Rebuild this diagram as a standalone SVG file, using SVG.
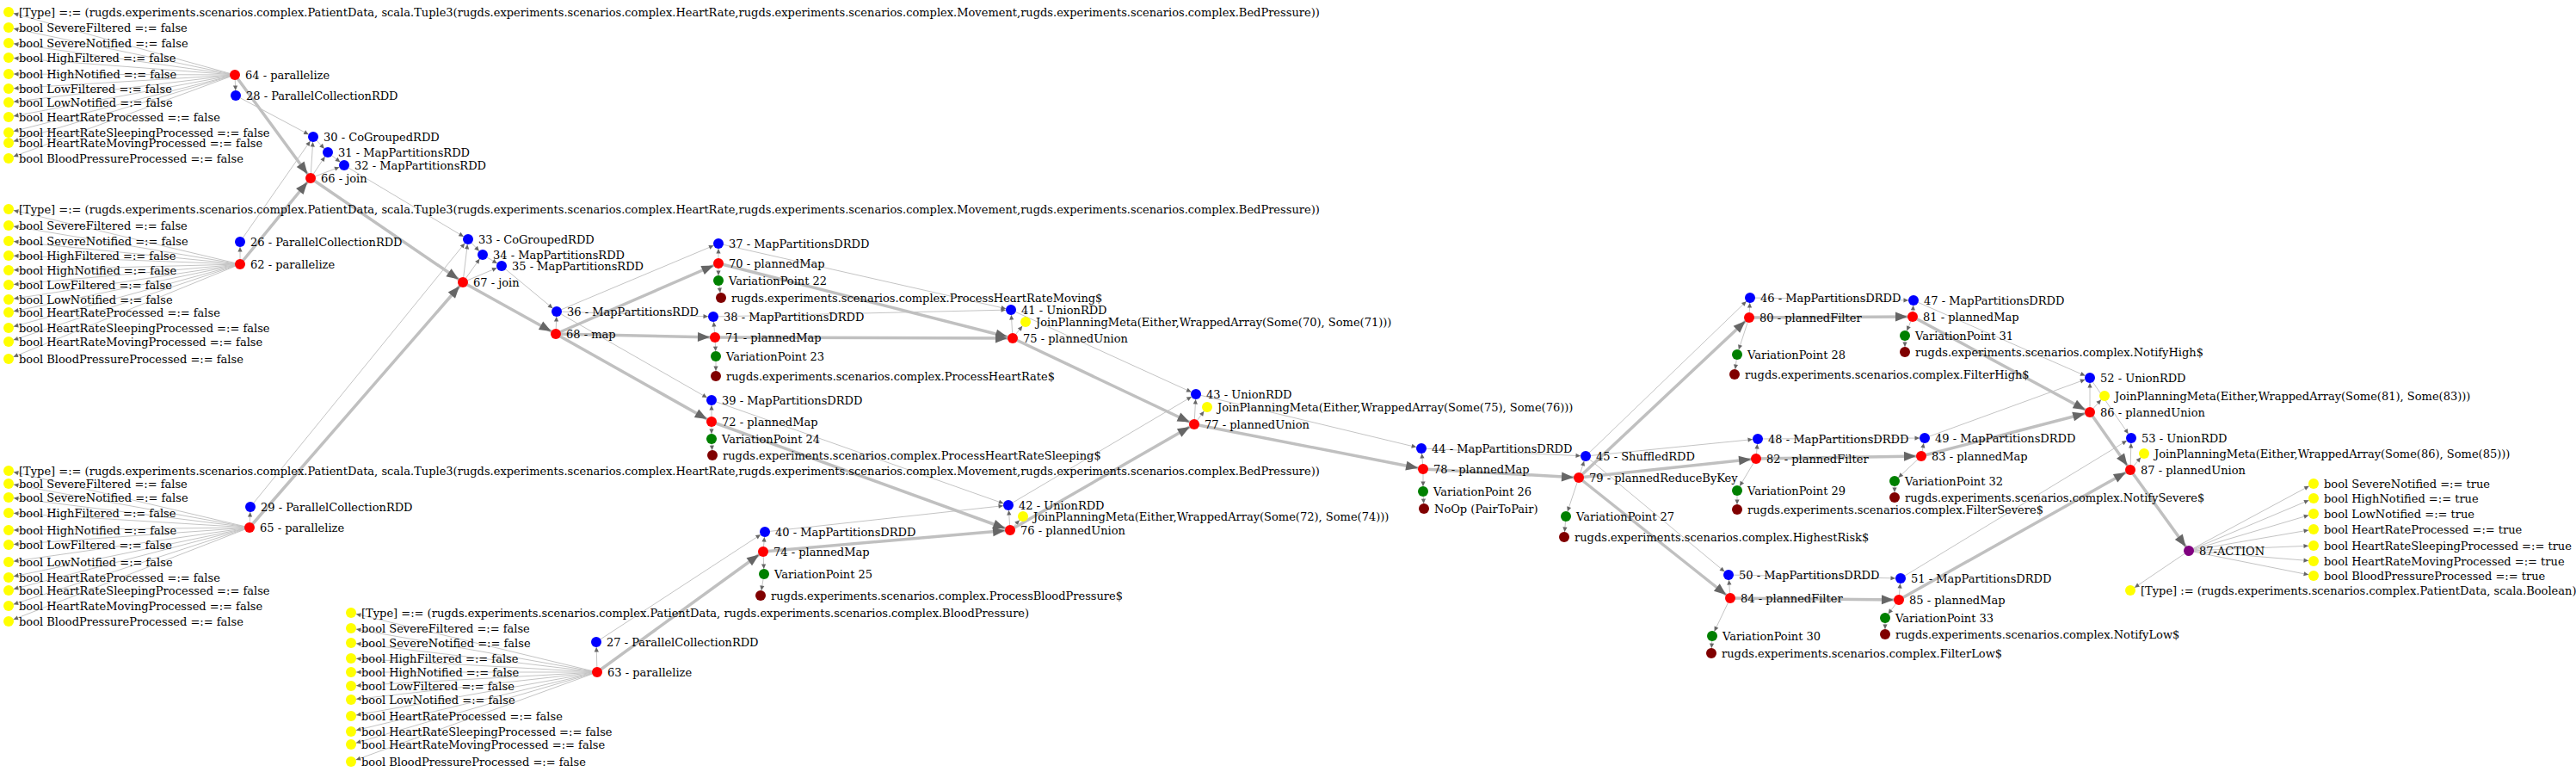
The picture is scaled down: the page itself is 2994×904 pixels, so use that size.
<svg xmlns="http://www.w3.org/2000/svg" width="2994" height="904" viewBox="0 0 2994 904">
<style>
.l{font-family:"DejaVu Serif","Liberation Serif",serif;font-size:13px;fill:#000}
.t{stroke:#c4c4c4;stroke-width:1;fill:none;marker-end:url(#as)}
.k{stroke:#c0c0c0;stroke-width:3.5;fill:none;marker-end:url(#al)}
.b{fill:#0000ff}.r{fill:#ff0000}.y{fill:#ffff00}.g{fill:#008000}.d{fill:#800000}.p{fill:#800080}
</style>
<defs>
<marker id="as" markerUnits="userSpaceOnUse" viewBox="-20 -10 30 20" markerWidth="30" markerHeight="20" refX="0" refY="0" orient="auto" overflow="visible"><path d="M-6,0 L-11.5,-2.6 L-11.5,2.6 Z" fill="#666"/></marker>
<marker id="al" markerUnits="userSpaceOnUse" viewBox="-30 -10 40 20" markerWidth="40" markerHeight="20" refX="0" refY="0" orient="auto" overflow="visible"><path d="M-6,0 L-20,-5.5 L-20,5.5 Z" fill="#666"/></marker>
</defs>
<rect width="2994" height="904" fill="#fff"/>
<g id="connectors">
<line class="t" x1="273" y1="87" x2="10" y2="14"/><line class="t" x1="273" y1="87" x2="10" y2="32"/><line class="t" x1="273" y1="87" x2="10" y2="50"/><line class="t" x1="273" y1="87" x2="10" y2="67"/><line class="t" x1="273" y1="87" x2="10" y2="86"/><line class="t" x1="273" y1="87" x2="10" y2="103"/><line class="t" x1="273" y1="87" x2="10" y2="119"/><line class="t" x1="273" y1="87" x2="10" y2="136"/><line class="t" x1="273" y1="87" x2="10" y2="154"/><line class="t" x1="273" y1="87" x2="10" y2="166"/><line class="t" x1="273" y1="87" x2="10" y2="184"/>
<line class="t" x1="279" y1="307" x2="10" y2="243"/><line class="t" x1="279" y1="307" x2="10" y2="262"/><line class="t" x1="279" y1="307" x2="10" y2="280"/><line class="t" x1="279" y1="307" x2="10" y2="297"/><line class="t" x1="279" y1="307" x2="10" y2="314"/><line class="t" x1="279" y1="307" x2="10" y2="331"/><line class="t" x1="279" y1="307" x2="10" y2="348"/><line class="t" x1="279" y1="307" x2="10" y2="363"/><line class="t" x1="279" y1="307" x2="10" y2="381"/><line class="t" x1="279" y1="307" x2="10" y2="397"/><line class="t" x1="279" y1="307" x2="10" y2="417"/>
<line class="t" x1="290" y1="613" x2="10" y2="547"/><line class="t" x1="290" y1="613" x2="10" y2="562"/><line class="t" x1="290" y1="613" x2="10" y2="578"/><line class="t" x1="290" y1="613" x2="10" y2="596"/><line class="t" x1="290" y1="613" x2="10" y2="616"/><line class="t" x1="290" y1="613" x2="10" y2="633"/><line class="t" x1="290" y1="613" x2="10" y2="653"/><line class="t" x1="290" y1="613" x2="10" y2="671"/><line class="t" x1="290" y1="613" x2="10" y2="686"/><line class="t" x1="290" y1="613" x2="10" y2="704"/><line class="t" x1="290" y1="613" x2="10" y2="722"/>
<line class="t" x1="694" y1="781" x2="408" y2="712"/><line class="t" x1="694" y1="781" x2="408" y2="730"/><line class="t" x1="694" y1="781" x2="408" y2="747"/><line class="t" x1="694" y1="781" x2="408" y2="765"/><line class="t" x1="694" y1="781" x2="408" y2="781"/><line class="t" x1="694" y1="781" x2="408" y2="797"/><line class="t" x1="694" y1="781" x2="408" y2="813"/><line class="t" x1="694" y1="781" x2="408" y2="832"/><line class="t" x1="694" y1="781" x2="408" y2="850"/><line class="t" x1="694" y1="781" x2="408" y2="865"/><line class="t" x1="694" y1="781" x2="408" y2="885"/>
<line class="t" x1="273" y1="87" x2="274" y2="111"/>
<line class="k" x1="273" y1="87" x2="361" y2="207"/>
<line class="t" x1="274" y1="111" x2="364" y2="159"/>
<line class="t" x1="361" y1="207" x2="364" y2="159"/>
<line class="t" x1="361" y1="207" x2="381" y2="177"/>
<line class="t" x1="361" y1="207" x2="400" y2="192"/>
<line class="t" x1="364" y1="159" x2="381" y2="177"/>
<line class="t" x1="381" y1="177" x2="400" y2="192"/>
<line class="t" x1="279" y1="281" x2="364" y2="159"/>
<line class="t" x1="279" y1="307" x2="279" y2="281"/>
<line class="k" x1="279" y1="307" x2="361" y2="207"/>
<line class="k" x1="361" y1="207" x2="538" y2="328"/>
<line class="t" x1="400" y1="192" x2="544" y2="278"/>
<line class="t" x1="291" y1="589" x2="544" y2="278"/>
<line class="t" x1="538" y1="328" x2="544" y2="278"/>
<line class="t" x1="538" y1="328" x2="561" y2="296"/>
<line class="t" x1="538" y1="328" x2="583" y2="309"/>
<line class="t" x1="544" y1="278" x2="561" y2="296"/>
<line class="t" x1="561" y1="296" x2="583" y2="309"/>
<line class="t" x1="290" y1="613" x2="291" y2="589"/>
<line class="k" x1="290" y1="613" x2="538" y2="328"/>
<line class="t" x1="694" y1="781" x2="693" y2="746"/>
<line class="k" x1="694" y1="781" x2="887" y2="641"/>
<line class="t" x1="693" y1="746" x2="889" y2="618"/>
<line class="t" x1="583" y1="309" x2="647" y2="362"/>
<line class="k" x1="538" y1="328" x2="646" y2="388"/>
<line class="t" x1="646" y1="388" x2="647" y2="362"/>
<line class="t" x1="647" y1="362" x2="835" y2="283"/>
<line class="t" x1="647" y1="362" x2="829" y2="368"/>
<line class="t" x1="647" y1="362" x2="827" y2="465"/>
<line class="k" x1="646" y1="388" x2="835" y2="306"/>
<line class="k" x1="646" y1="388" x2="831" y2="392"/>
<line class="k" x1="646" y1="388" x2="827" y2="490"/>
<line class="t" x1="835" y1="306" x2="835" y2="283"/>
<line class="t" x1="835" y1="306" x2="835" y2="326"/>
<line class="t" x1="835" y1="326" x2="838" y2="346"/>
<line class="t" x1="831" y1="392" x2="829" y2="368"/>
<line class="t" x1="831" y1="392" x2="832" y2="414"/>
<line class="t" x1="832" y1="414" x2="832" y2="437"/>
<line class="t" x1="827" y1="490" x2="827" y2="465"/>
<line class="t" x1="827" y1="490" x2="827" y2="510"/>
<line class="t" x1="827" y1="510" x2="828" y2="529"/>
<line class="t" x1="887" y1="641" x2="889" y2="618"/>
<line class="t" x1="887" y1="641" x2="888" y2="667"/>
<line class="t" x1="888" y1="667" x2="884" y2="692"/>
<line class="t" x1="835" y1="283" x2="1175" y2="360"/>
<line class="t" x1="829" y1="368" x2="1175" y2="360"/>
<line class="k" x1="835" y1="306" x2="1177" y2="393"/>
<line class="k" x1="831" y1="392" x2="1177" y2="393"/>
<line class="t" x1="1177" y1="393" x2="1175" y2="360"/>
<line class="t" x1="1177" y1="393" x2="1192" y2="374"/>
<line class="t" x1="827" y1="465" x2="1172" y2="587"/>
<line class="t" x1="889" y1="618" x2="1172" y2="587"/>
<line class="k" x1="827" y1="490" x2="1174" y2="616"/>
<line class="k" x1="887" y1="641" x2="1174" y2="616"/>
<line class="t" x1="1174" y1="616" x2="1172" y2="587"/>
<line class="t" x1="1174" y1="616" x2="1189" y2="600"/>
<line class="t" x1="1175" y1="360" x2="1390" y2="458"/>
<line class="t" x1="1172" y1="587" x2="1390" y2="458"/>
<line class="k" x1="1177" y1="393" x2="1388" y2="493"/>
<line class="k" x1="1174" y1="616" x2="1388" y2="493"/>
<line class="t" x1="1388" y1="493" x2="1390" y2="458"/>
<line class="t" x1="1388" y1="493" x2="1403" y2="473"/>
<line class="t" x1="1390" y1="458" x2="1652" y2="521"/>
<line class="k" x1="1388" y1="493" x2="1654" y2="545"/>
<line class="t" x1="1654" y1="545" x2="1652" y2="521"/>
<line class="t" x1="1654" y1="545" x2="1654" y2="571"/>
<line class="t" x1="1654" y1="571" x2="1655" y2="591"/>
<line class="t" x1="1652" y1="521" x2="1843" y2="530"/>
<line class="k" x1="1654" y1="545" x2="1835" y2="555"/>
<line class="t" x1="1835" y1="555" x2="1843" y2="530"/>
<line class="t" x1="1835" y1="555" x2="1820" y2="600"/>
<line class="t" x1="1820" y1="600" x2="1818" y2="624"/>
<line class="t" x1="1843" y1="530" x2="2034" y2="346"/>
<line class="t" x1="1843" y1="530" x2="2043" y2="510"/>
<line class="t" x1="1843" y1="530" x2="2009" y2="668"/>
<line class="k" x1="1835" y1="555" x2="2033" y2="369"/>
<line class="k" x1="1835" y1="555" x2="2041" y2="533"/>
<line class="k" x1="1835" y1="555" x2="2011" y2="695"/>
<line class="t" x1="2033" y1="369" x2="2034" y2="346"/>
<line class="t" x1="2033" y1="369" x2="2019" y2="412"/>
<line class="t" x1="2019" y1="412" x2="2016" y2="435"/>
<line class="t" x1="2041" y1="533" x2="2043" y2="510"/>
<line class="t" x1="2041" y1="533" x2="2019" y2="570"/>
<line class="t" x1="2019" y1="570" x2="2019" y2="592"/>
<line class="t" x1="2011" y1="695" x2="2009" y2="668"/>
<line class="t" x1="2011" y1="695" x2="1990" y2="739"/>
<line class="t" x1="1990" y1="739" x2="1989" y2="759"/>
<line class="t" x1="2034" y1="346" x2="2224" y2="349"/>
<line class="t" x1="2043" y1="510" x2="2237" y2="509"/>
<line class="t" x1="2009" y1="668" x2="2209" y2="672"/>
<line class="k" x1="2033" y1="369" x2="2223" y2="368"/>
<line class="k" x1="2041" y1="533" x2="2233" y2="530"/>
<line class="k" x1="2011" y1="695" x2="2207" y2="697"/>
<line class="t" x1="2223" y1="368" x2="2224" y2="349"/>
<line class="t" x1="2223" y1="368" x2="2214" y2="390"/>
<line class="t" x1="2214" y1="390" x2="2214" y2="409"/>
<line class="t" x1="2233" y1="530" x2="2237" y2="509"/>
<line class="t" x1="2233" y1="530" x2="2202" y2="559"/>
<line class="t" x1="2202" y1="559" x2="2202" y2="578"/>
<line class="t" x1="2207" y1="697" x2="2209" y2="672"/>
<line class="t" x1="2207" y1="697" x2="2191" y2="718"/>
<line class="t" x1="2191" y1="718" x2="2191" y2="737"/>
<line class="t" x1="2224" y1="349" x2="2429" y2="439"/>
<line class="t" x1="2237" y1="509" x2="2429" y2="439"/>
<line class="k" x1="2223" y1="368" x2="2429" y2="479"/>
<line class="k" x1="2233" y1="530" x2="2429" y2="479"/>
<line class="t" x1="2429" y1="479" x2="2429" y2="439"/>
<line class="t" x1="2429" y1="479" x2="2446" y2="460"/>
<line class="t" x1="2429" y1="439" x2="2477" y2="509"/>
<line class="t" x1="2209" y1="672" x2="2477" y2="509"/>
<line class="k" x1="2429" y1="479" x2="2476" y2="546"/>
<line class="k" x1="2207" y1="697" x2="2476" y2="546"/>
<line class="t" x1="2476" y1="546" x2="2477" y2="509"/>
<line class="t" x1="2476" y1="546" x2="2492" y2="527"/>
<line class="k" x1="2476" y1="546" x2="2544" y2="640"/>
<line class="t" x1="2544" y1="640" x2="2689" y2="562"/><line class="t" x1="2544" y1="640" x2="2689" y2="579"/><line class="t" x1="2544" y1="640" x2="2689" y2="597"/><line class="t" x1="2544" y1="640" x2="2689" y2="615"/><line class="t" x1="2544" y1="640" x2="2689" y2="634"/><line class="t" x1="2544" y1="640" x2="2689" y2="652"/><line class="t" x1="2544" y1="640" x2="2689" y2="669"/>
<line class="t" x1="2544" y1="640" x2="2476" y2="686"/>
</g>
<g id="c1">
<g id="y1a"><circle class="y" cx="10" cy="14" r="6"/><text class="l" x="22" y="18.5">[Type] =:= (rugds.experiments.scenarios.complex.PatientData, scala.Tuple3(rugds.experiments.scenarios.complex.HeartRate,rugds.experiments.scenarios.complex.Movement,rugds.experiments.scenarios.complex.BedPressure))</text></g>
<g id="y1b"><circle class="y" cx="10" cy="32" r="6"/><text class="l" x="22" y="36.5">bool SevereFiltered =:= false</text></g>
<g id="y1c"><circle class="y" cx="10" cy="50" r="6"/><text class="l" x="22" y="54.5">bool SevereNotified =:= false</text></g>
<g id="y1d"><circle class="y" cx="10" cy="67" r="6"/><text class="l" x="22" y="71.5">bool HighFiltered =:= false</text></g>
<g id="y1e"><circle class="y" cx="10" cy="86" r="6"/><text class="l" x="22" y="90.5">bool HighNotified =:= false</text></g>
<g id="y1f"><circle class="y" cx="10" cy="103" r="6"/><text class="l" x="22" y="107.5">bool LowFiltered =:= false</text></g>
<g id="y1g"><circle class="y" cx="10" cy="119" r="6"/><text class="l" x="22" y="123.5">bool LowNotified =:= false</text></g>
<g id="y1h"><circle class="y" cx="10" cy="136" r="6"/><text class="l" x="22" y="140.5">bool HeartRateProcessed =:= false</text></g>
<g id="y1i"><circle class="y" cx="10" cy="154" r="6"/><text class="l" x="22" y="158.5">bool HeartRateSleepingProcessed =:= false</text></g>
<g id="y1j"><circle class="y" cx="10" cy="166" r="6"/><text class="l" x="22" y="170.5">bool HeartRateMovingProcessed =:= false</text></g>
<g id="y1k"><circle class="y" cx="10" cy="184" r="6"/><text class="l" x="22" y="188.5">bool BloodPressureProcessed =:= false</text></g>
</g>
<g id="c2">
<g id="y2a"><circle class="y" cx="10" cy="243" r="6"/><text class="l" x="22" y="247.5">[Type] =:= (rugds.experiments.scenarios.complex.PatientData, scala.Tuple3(rugds.experiments.scenarios.complex.HeartRate,rugds.experiments.scenarios.complex.Movement,rugds.experiments.scenarios.complex.BedPressure))</text></g>
<g id="y2b"><circle class="y" cx="10" cy="262" r="6"/><text class="l" x="22" y="266.5">bool SevereFiltered =:= false</text></g>
<g id="y2c"><circle class="y" cx="10" cy="280" r="6"/><text class="l" x="22" y="284.5">bool SevereNotified =:= false</text></g>
<g id="y2d"><circle class="y" cx="10" cy="297" r="6"/><text class="l" x="22" y="301.5">bool HighFiltered =:= false</text></g>
<g id="y2e"><circle class="y" cx="10" cy="314" r="6"/><text class="l" x="22" y="318.5">bool HighNotified =:= false</text></g>
<g id="y2f"><circle class="y" cx="10" cy="331" r="6"/><text class="l" x="22" y="335.5">bool LowFiltered =:= false</text></g>
<g id="y2g"><circle class="y" cx="10" cy="348" r="6"/><text class="l" x="22" y="352.5">bool LowNotified =:= false</text></g>
<g id="y2h"><circle class="y" cx="10" cy="363" r="6"/><text class="l" x="22" y="367.5">bool HeartRateProcessed =:= false</text></g>
<g id="y2i"><circle class="y" cx="10" cy="381" r="6"/><text class="l" x="22" y="385.5">bool HeartRateSleepingProcessed =:= false</text></g>
<g id="y2j"><circle class="y" cx="10" cy="397" r="6"/><text class="l" x="22" y="401.5">bool HeartRateMovingProcessed =:= false</text></g>
<g id="y2k"><circle class="y" cx="10" cy="417" r="6"/><text class="l" x="22" y="421.5">bool BloodPressureProcessed =:= false</text></g>
</g>
<g id="c3">
<g id="y3a"><circle class="y" cx="10" cy="547" r="6"/><text class="l" x="22" y="551.5">[Type] =:= (rugds.experiments.scenarios.complex.PatientData, scala.Tuple3(rugds.experiments.scenarios.complex.HeartRate,rugds.experiments.scenarios.complex.Movement,rugds.experiments.scenarios.complex.BedPressure))</text></g>
<g id="y3b"><circle class="y" cx="10" cy="562" r="6"/><text class="l" x="22" y="566.5">bool SevereFiltered =:= false</text></g>
<g id="y3c"><circle class="y" cx="10" cy="578" r="6"/><text class="l" x="22" y="582.5">bool SevereNotified =:= false</text></g>
<g id="y3d"><circle class="y" cx="10" cy="596" r="6"/><text class="l" x="22" y="600.5">bool HighFiltered =:= false</text></g>
<g id="y3e"><circle class="y" cx="10" cy="616" r="6"/><text class="l" x="22" y="620.5">bool HighNotified =:= false</text></g>
<g id="y3f"><circle class="y" cx="10" cy="633" r="6"/><text class="l" x="22" y="637.5">bool LowFiltered =:= false</text></g>
<g id="y3g"><circle class="y" cx="10" cy="653" r="6"/><text class="l" x="22" y="657.5">bool LowNotified =:= false</text></g>
<g id="y3h"><circle class="y" cx="10" cy="671" r="6"/><text class="l" x="22" y="675.5">bool HeartRateProcessed =:= false</text></g>
<g id="y3i"><circle class="y" cx="10" cy="686" r="6"/><text class="l" x="22" y="690.5">bool HeartRateSleepingProcessed =:= false</text></g>
<g id="y3j"><circle class="y" cx="10" cy="704" r="6"/><text class="l" x="22" y="708.5">bool HeartRateMovingProcessed =:= false</text></g>
<g id="y3k"><circle class="y" cx="10" cy="722" r="6"/><text class="l" x="22" y="726.5">bool BloodPressureProcessed =:= false</text></g>
</g>
<g id="c4">
<g id="y4a"><circle class="y" cx="408" cy="712" r="6"/><text class="l" x="420" y="716.5">[Type] =:= (rugds.experiments.scenarios.complex.PatientData, rugds.experiments.scenarios.complex.BloodPressure)</text></g>
<g id="y4b"><circle class="y" cx="408" cy="730" r="6"/><text class="l" x="420" y="734.5">bool SevereFiltered =:= false</text></g>
<g id="y4c"><circle class="y" cx="408" cy="747" r="6"/><text class="l" x="420" y="751.5">bool SevereNotified =:= false</text></g>
<g id="y4d"><circle class="y" cx="408" cy="765" r="6"/><text class="l" x="420" y="769.5">bool HighFiltered =:= false</text></g>
<g id="y4e"><circle class="y" cx="408" cy="781" r="6"/><text class="l" x="420" y="785.5">bool HighNotified =:= false</text></g>
<g id="y4f"><circle class="y" cx="408" cy="797" r="6"/><text class="l" x="420" y="801.5">bool LowFiltered =:= false</text></g>
<g id="y4g"><circle class="y" cx="408" cy="813" r="6"/><text class="l" x="420" y="817.5">bool LowNotified =:= false</text></g>
<g id="y4h"><circle class="y" cx="408" cy="832" r="6"/><text class="l" x="420" y="836.5">bool HeartRateProcessed =:= false</text></g>
<g id="y4i"><circle class="y" cx="408" cy="850" r="6"/><text class="l" x="420" y="854.5">bool HeartRateSleepingProcessed =:= false</text></g>
<g id="y4j"><circle class="y" cx="408" cy="865" r="6"/><text class="l" x="420" y="869.5">bool HeartRateMovingProcessed =:= false</text></g>
<g id="y4k"><circle class="y" cx="408" cy="885" r="6"/><text class="l" x="420" y="889.5">bool BloodPressureProcessed =:= false</text></g>
</g>
<g id="n64"><circle class="r" cx="273" cy="87" r="6"/><text class="l" x="285" y="91.5">64 - parallelize</text></g>
<g id="n28"><circle class="b" cx="274" cy="111" r="6"/><text class="l" x="286" y="115.5">28 - ParallelCollectionRDD</text></g>
<g id="n30"><circle class="b" cx="364" cy="159" r="6"/><text class="l" x="376" y="163.5">30 - CoGroupedRDD</text></g>
<g id="n31"><circle class="b" cx="381" cy="177" r="6"/><text class="l" x="393" y="181.5">31 - MapPartitionsRDD</text></g>
<g id="n32"><circle class="b" cx="400" cy="192" r="6"/><text class="l" x="412" y="196.5">32 - MapPartitionsRDD</text></g>
<g id="n66"><circle class="r" cx="361" cy="207" r="6"/><text class="l" x="373" y="211.5">66 - join</text></g>
<g id="n26"><circle class="b" cx="279" cy="281" r="6"/><text class="l" x="291" y="285.5">26 - ParallelCollectionRDD</text></g>
<g id="n62"><circle class="r" cx="279" cy="307" r="6"/><text class="l" x="291" y="311.5">62 - parallelize</text></g>
<g id="n33"><circle class="b" cx="544" cy="278" r="6"/><text class="l" x="556" y="282.5">33 - CoGroupedRDD</text></g>
<g id="n34"><circle class="b" cx="561" cy="296" r="6"/><text class="l" x="573" y="300.5">34 - MapPartitionsRDD</text></g>
<g id="n35"><circle class="b" cx="583" cy="309" r="6"/><text class="l" x="595" y="313.5">35 - MapPartitionsRDD</text></g>
<g id="n67"><circle class="r" cx="538" cy="328" r="6"/><text class="l" x="550" y="332.5">67 - join</text></g>
<g id="n29"><circle class="b" cx="291" cy="589" r="6"/><text class="l" x="303" y="593.5">29 - ParallelCollectionRDD</text></g>
<g id="n65"><circle class="r" cx="290" cy="613" r="6"/><text class="l" x="302" y="617.5">65 - parallelize</text></g>
<g id="n27"><circle class="b" cx="693" cy="746" r="6"/><text class="l" x="705" y="750.5">27 - ParallelCollectionRDD</text></g>
<g id="n63"><circle class="r" cx="694" cy="781" r="6"/><text class="l" x="706" y="785.5">63 - parallelize</text></g>
<g id="n36"><circle class="b" cx="647" cy="362" r="6"/><text class="l" x="659" y="366.5">36 - MapPartitionsRDD</text></g>
<g id="n68"><circle class="r" cx="646" cy="388" r="6"/><text class="l" x="658" y="392.5">68 - map</text></g>
<g id="n37"><circle class="b" cx="835" cy="283" r="6"/><text class="l" x="847" y="287.5">37 - MapPartitionsDRDD</text></g>
<g id="n70"><circle class="r" cx="835" cy="306" r="6"/><text class="l" x="847" y="310.5">70 - plannedMap</text></g>
<g id="v22"><circle class="g" cx="835" cy="326" r="6"/><text class="l" x="847" y="330.5">VariationPoint 22</text></g>
<g id="d22"><circle class="d" cx="838" cy="346" r="6"/><text class="l" x="850" y="350.5">rugds.experiments.scenarios.complex.ProcessHeartRateMoving$</text></g>
<g id="n38"><circle class="b" cx="829" cy="368" r="6"/><text class="l" x="841" y="372.5">38 - MapPartitionsDRDD</text></g>
<g id="n71"><circle class="r" cx="831" cy="392" r="6"/><text class="l" x="843" y="396.5">71 - plannedMap</text></g>
<g id="v23"><circle class="g" cx="832" cy="414" r="6"/><text class="l" x="844" y="418.5">VariationPoint 23</text></g>
<g id="d23"><circle class="d" cx="832" cy="437" r="6"/><text class="l" x="844" y="441.5">rugds.experiments.scenarios.complex.ProcessHeartRate$</text></g>
<g id="n39"><circle class="b" cx="827" cy="465" r="6"/><text class="l" x="839" y="469.5">39 - MapPartitionsDRDD</text></g>
<g id="n72"><circle class="r" cx="827" cy="490" r="6"/><text class="l" x="839" y="494.5">72 - plannedMap</text></g>
<g id="v24"><circle class="g" cx="827" cy="510" r="6"/><text class="l" x="839" y="514.5">VariationPoint 24</text></g>
<g id="d24"><circle class="d" cx="828" cy="529" r="6"/><text class="l" x="840" y="533.5">rugds.experiments.scenarios.complex.ProcessHeartRateSleeping$</text></g>
<g id="n40"><circle class="b" cx="889" cy="618" r="6"/><text class="l" x="901" y="622.5">40 - MapPartitionsDRDD</text></g>
<g id="n74"><circle class="r" cx="887" cy="641" r="6"/><text class="l" x="899" y="645.5">74 - plannedMap</text></g>
<g id="v25"><circle class="g" cx="888" cy="667" r="6"/><text class="l" x="900" y="671.5">VariationPoint 25</text></g>
<g id="d25"><circle class="d" cx="884" cy="692" r="6"/><text class="l" x="896" y="696.5">rugds.experiments.scenarios.complex.ProcessBloodPressure$</text></g>
<g id="n41"><circle class="b" cx="1175" cy="360" r="6"/><text class="l" x="1187" y="364.5">41 - UnionRDD</text></g>
<g id="j41"><circle class="y" cx="1192" cy="374" r="6"/><text class="l" x="1204" y="378.5">JoinPlanningMeta(Either,WrappedArray(Some(70), Some(71)))</text></g>
<g id="n75"><circle class="r" cx="1177" cy="393" r="6"/><text class="l" x="1189" y="397.5">75 - plannedUnion</text></g>
<g id="n42"><circle class="b" cx="1172" cy="587" r="6"/><text class="l" x="1184" y="591.5">42 - UnionRDD</text></g>
<g id="j42"><circle class="y" cx="1189" cy="600" r="6"/><text class="l" x="1201" y="604.5">JoinPlanningMeta(Either,WrappedArray(Some(72), Some(74)))</text></g>
<g id="n76"><circle class="r" cx="1174" cy="616" r="6"/><text class="l" x="1186" y="620.5">76 - plannedUnion</text></g>
<g id="n43"><circle class="b" cx="1390" cy="458" r="6"/><text class="l" x="1402" y="462.5">43 - UnionRDD</text></g>
<g id="j43"><circle class="y" cx="1403" cy="473" r="6"/><text class="l" x="1415" y="477.5">JoinPlanningMeta(Either,WrappedArray(Some(75), Some(76)))</text></g>
<g id="n77"><circle class="r" cx="1388" cy="493" r="6"/><text class="l" x="1400" y="497.5">77 - plannedUnion</text></g>
<g id="n44"><circle class="b" cx="1652" cy="521" r="6"/><text class="l" x="1664" y="525.5">44 - MapPartitionsDRDD</text></g>
<g id="n78"><circle class="r" cx="1654" cy="545" r="6"/><text class="l" x="1666" y="549.5">78 - plannedMap</text></g>
<g id="v26"><circle class="g" cx="1654" cy="571" r="6"/><text class="l" x="1666" y="575.5">VariationPoint 26</text></g>
<g id="d26"><circle class="d" cx="1655" cy="591" r="6"/><text class="l" x="1667" y="595.5">NoOp (PairToPair)</text></g>
<g id="n45"><circle class="b" cx="1843" cy="530" r="6"/><text class="l" x="1855" y="534.5">45 - ShuffledRDD</text></g>
<g id="n79"><circle class="r" cx="1835" cy="555" r="6"/><text class="l" x="1847" y="559.5">79 - plannedReduceByKey</text></g>
<g id="v27"><circle class="g" cx="1820" cy="600" r="6"/><text class="l" x="1832" y="604.5">VariationPoint 27</text></g>
<g id="d27"><circle class="d" cx="1818" cy="624" r="6"/><text class="l" x="1830" y="628.5">rugds.experiments.scenarios.complex.HighestRisk$</text></g>
<g id="n46"><circle class="b" cx="2034" cy="346" r="6"/><text class="l" x="2046" y="350.5">46 - MapPartitionsDRDD</text></g>
<g id="n80"><circle class="r" cx="2033" cy="369" r="6"/><text class="l" x="2045" y="373.5">80 - plannedFilter</text></g>
<g id="v28"><circle class="g" cx="2019" cy="412" r="6"/><text class="l" x="2031" y="416.5">VariationPoint 28</text></g>
<g id="d28"><circle class="d" cx="2016" cy="435" r="6"/><text class="l" x="2028" y="439.5">rugds.experiments.scenarios.complex.FilterHigh$</text></g>
<g id="n47"><circle class="b" cx="2224" cy="349" r="6"/><text class="l" x="2236" y="353.5">47 - MapPartitionsDRDD</text></g>
<g id="n81"><circle class="r" cx="2223" cy="368" r="6"/><text class="l" x="2235" y="372.5">81 - plannedMap</text></g>
<g id="v31"><circle class="g" cx="2214" cy="390" r="6"/><text class="l" x="2226" y="394.5">VariationPoint 31</text></g>
<g id="d31"><circle class="d" cx="2214" cy="409" r="6"/><text class="l" x="2226" y="413.5">rugds.experiments.scenarios.complex.NotifyHigh$</text></g>
<g id="n48"><circle class="b" cx="2043" cy="510" r="6"/><text class="l" x="2055" y="514.5">48 - MapPartitionsDRDD</text></g>
<g id="n82"><circle class="r" cx="2041" cy="533" r="6"/><text class="l" x="2053" y="537.5">82 - plannedFilter</text></g>
<g id="v29"><circle class="g" cx="2019" cy="570" r="6"/><text class="l" x="2031" y="574.5">VariationPoint 29</text></g>
<g id="d29"><circle class="d" cx="2019" cy="592" r="6"/><text class="l" x="2031" y="596.5">rugds.experiments.scenarios.complex.FilterSevere$</text></g>
<g id="n49"><circle class="b" cx="2237" cy="509" r="6"/><text class="l" x="2249" y="513.5">49 - MapPartitionsDRDD</text></g>
<g id="n83"><circle class="r" cx="2233" cy="530" r="6"/><text class="l" x="2245" y="534.5">83 - plannedMap</text></g>
<g id="v32"><circle class="g" cx="2202" cy="559" r="6"/><text class="l" x="2214" y="563.5">VariationPoint 32</text></g>
<g id="d32"><circle class="d" cx="2202" cy="578" r="6"/><text class="l" x="2214" y="582.5">rugds.experiments.scenarios.complex.NotifySevere$</text></g>
<g id="n50"><circle class="b" cx="2009" cy="668" r="6"/><text class="l" x="2021" y="672.5">50 - MapPartitionsDRDD</text></g>
<g id="n84"><circle class="r" cx="2011" cy="695" r="6"/><text class="l" x="2023" y="699.5">84 - plannedFilter</text></g>
<g id="v30"><circle class="g" cx="1990" cy="739" r="6"/><text class="l" x="2002" y="743.5">VariationPoint 30</text></g>
<g id="d30"><circle class="d" cx="1989" cy="759" r="6"/><text class="l" x="2001" y="763.5">rugds.experiments.scenarios.complex.FilterLow$</text></g>
<g id="n51"><circle class="b" cx="2209" cy="672" r="6"/><text class="l" x="2221" y="676.5">51 - MapPartitionsDRDD</text></g>
<g id="n85"><circle class="r" cx="2207" cy="697" r="6"/><text class="l" x="2219" y="701.5">85 - plannedMap</text></g>
<g id="v33"><circle class="g" cx="2191" cy="718" r="6"/><text class="l" x="2203" y="722.5">VariationPoint 33</text></g>
<g id="d33"><circle class="d" cx="2191" cy="737" r="6"/><text class="l" x="2203" y="741.5">rugds.experiments.scenarios.complex.NotifyLow$</text></g>
<g id="n52"><circle class="b" cx="2429" cy="439" r="6"/><text class="l" x="2441" y="443.5">52 - UnionRDD</text></g>
<g id="j52"><circle class="y" cx="2446" cy="460" r="6"/><text class="l" x="2458" y="464.5">JoinPlanningMeta(Either,WrappedArray(Some(81), Some(83)))</text></g>
<g id="n86"><circle class="r" cx="2429" cy="479" r="6"/><text class="l" x="2441" y="483.5">86 - plannedUnion</text></g>
<g id="n53"><circle class="b" cx="2477" cy="509" r="6"/><text class="l" x="2489" y="513.5">53 - UnionRDD</text></g>
<g id="j53"><circle class="y" cx="2492" cy="527" r="6"/><text class="l" x="2504" y="531.5">JoinPlanningMeta(Either,WrappedArray(Some(86), Some(85)))</text></g>
<g id="n87"><circle class="r" cx="2476" cy="546" r="6"/><text class="l" x="2488" y="550.5">87 - plannedUnion</text></g>
<g id="act"><circle class="p" cx="2544" cy="640" r="6"/><text class="l" x="2556" y="644.5">87-ACTION</text></g>
<g id="ra"><circle class="y" cx="2689" cy="562" r="6"/><text class="l" x="2701" y="566.5">bool SevereNotified =:= true</text></g>
<g id="rb"><circle class="y" cx="2689" cy="579" r="6"/><text class="l" x="2701" y="583.5">bool HighNotified =:= true</text></g>
<g id="rc"><circle class="y" cx="2689" cy="597" r="6"/><text class="l" x="2701" y="601.5">bool LowNotified =:= true</text></g>
<g id="rd"><circle class="y" cx="2689" cy="615" r="6"/><text class="l" x="2701" y="619.5">bool HeartRateProcessed =:= true</text></g>
<g id="re"><circle class="y" cx="2689" cy="634" r="6"/><text class="l" x="2701" y="638.5">bool HeartRateSleepingProcessed =:= true</text></g>
<g id="rf"><circle class="y" cx="2689" cy="652" r="6"/><text class="l" x="2701" y="656.5">bool HeartRateMovingProcessed =:= true</text></g>
<g id="rg"><circle class="y" cx="2689" cy="669" r="6"/><text class="l" x="2701" y="673.5">bool BloodPressureProcessed =:= true</text></g>
<g id="rt"><circle class="y" cx="2476" cy="686" r="6"/><text class="l" x="2488" y="690.5">[Type] := (rugds.experiments.scenarios.complex.PatientData, scala.Boolean)</text></g>
</svg>
